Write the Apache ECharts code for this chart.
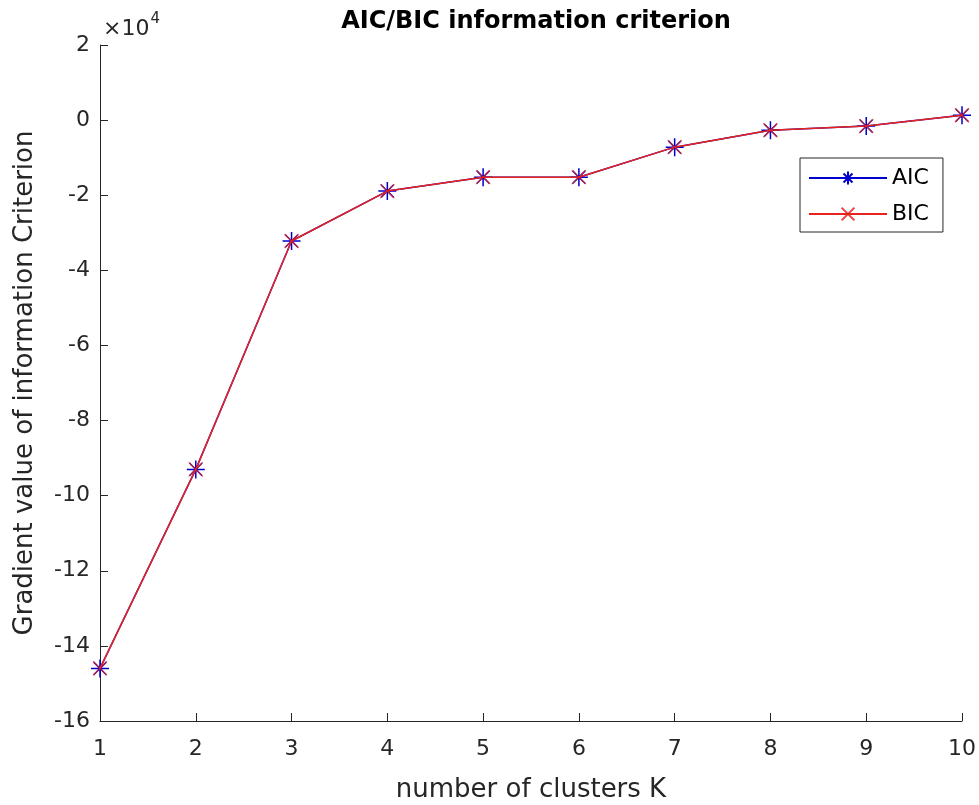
<!DOCTYPE html>
<html>
<head>
<meta charset="utf-8">
<script src="https://cdn.jsdelivr.net/npm/echarts@6/dist/echarts.min.js"></script>
<style>
  html, body { margin: 0; padding: 0; background: #fff; }
  #main { width: 979px; height: 805px; }
</style>
</head>
<body>
<div id="main"></div>
<script>
// 聚类数 K
const clusters = [1, 2, 3, 4, 5, 6, 7, 8, 9, 10]
// AIC / BIC 梯度值（原值，坐标轴按 ×10^4 显示）
const aicValues = [-146000, -93000, -32200, -18900, -15200, -15200, -7200, -2700, -1600, 1300]
const bicValues = [-146000, -93000, -32200, -18900, -15200, -15200, -7200, -2700, -1600, 1300]
// y 轴刻度（×10^4）
const yTicks = [-16, -14, -12, -10, -8, -6, -4, -2, 0, 2]

const starPath = 'path://M0,-1L0,1M-1,0L1,0M-0.7,-0.7L0.7,0.7M-0.7,0.7L0.7,-0.7'
const crossPath = 'path://M-1,-1L1,1M-1,1L1,-1'

const font = 'DejaVu Sans, Liberation Sans, sans-serif'
const labelColor = '#262626'

const chartDom = document.querySelector('#main')
const myChart = echarts.init(chartDom)
const option = {
  animation: false,
  title: {
    text: 'AIC/BIC information criterion',
    left: 531,
    top: 5,
    textAlign: 'center',
    textStyle: {
      fontFamily: font,
      fontSize: 24,
      fontWeight: 'bold',
      color: '#000'
    }
  },
  grid: {
    left: 100,
    right: 17,
    top: 45,
    bottom: 84,
    outerBoundsMode: 'none'
  },
  legend: {
    left: 800,
    top: 158,
    orient: 'vertical',
    backgroundColor: '#fff',
    borderColor: '#262626',
    borderWidth: 1,
    padding: [9, 14, 7, 8],
    itemWidth: 78,
    itemHeight: 16,
    itemGap: 14,
    textStyle: {
      fontFamily: font,
      fontSize: 22,
      color: '#000'
    },
    data: ['AIC', 'BIC']
  },
  xAxis: {
    type: 'value',
    min: 1,
    max: 10,
    interval: 1,
    name: 'number of clusters K',
    nameLocation: 'middle',
    nameGap: 56,
    nameTextStyle: {
      fontFamily: font,
      fontSize: 26,
      color: labelColor
    },
    axisLine: { onZero: false, lineStyle: { color: labelColor, width: 1 } },
    axisTick: { inside: true, length: 8, lineStyle: { color: labelColor } },
    axisLabel: {
      margin: 17,
      fontFamily: font,
      fontSize: 22,
      color: labelColor
    },
    splitLine: { show: false }
  },
  yAxis: {
    type: 'value',
    min: yTicks[0] * 1e4,
    max: yTicks[yTicks.length - 1] * 1e4,
    interval: 2e4,
    name: 'Gradient value of information Criterion',
    nameLocation: 'middle',
    nameGap: 62,
    nameTextStyle: {
      fontFamily: font,
      fontSize: 26,
      color: labelColor
    },
    axisLine: { show: true, onZero: false, lineStyle: { color: labelColor, width: 1 } },
    axisTick: { show: true, inside: true, length: 8, lineStyle: { color: labelColor } },
    axisLabel: {
      margin: 10,
      fontFamily: font,
      fontSize: 22,
      color: labelColor,
      formatter: v => String(v / 1e4)
    },
    splitLine: { show: false }
  },
  graphic: [
    {
      type: 'text',
      left: 103,
      top: 12,
      style: {
        text: '{a|×10}{b|4}',
        rich: {
          a: { fontFamily: font, fontSize: 22, fill: labelColor, verticalAlign: 'bottom', lineHeight: 28 },
          b: { fontFamily: font, fontSize: 15, fill: labelColor, verticalAlign: 'top', lineHeight: 28, padding: [0, 0, 12, 1] }
        }
      }
    }
  ],
  series: [
    {
      name: 'AIC',
      type: 'line',
      data: clusters.map((k, i) => [k, aicValues[i]]),
      symbol: starPath,
      symbolSize: 18,
      lineStyle: { color: '#0000cc', width: 1.5 },
      itemStyle: { color: '#0000cc', borderColor: '#0000cc', borderWidth: 1.5 },
      z: 2
    },
    {
      name: 'BIC',
      type: 'line',
      data: clusters.map((k, i) => [k, bicValues[i]]),
      symbol: crossPath,
      symbolSize: 14,
      lineStyle: { color: '#e8221c', width: 1.5 },
      itemStyle: { color: '#e8221c', borderColor: '#e8221c', borderWidth: 1.2, opacity: 0.85 },
      z: 3
    }
  ]
}
myChart.setOption(option)
</script>
</body>
</html>
